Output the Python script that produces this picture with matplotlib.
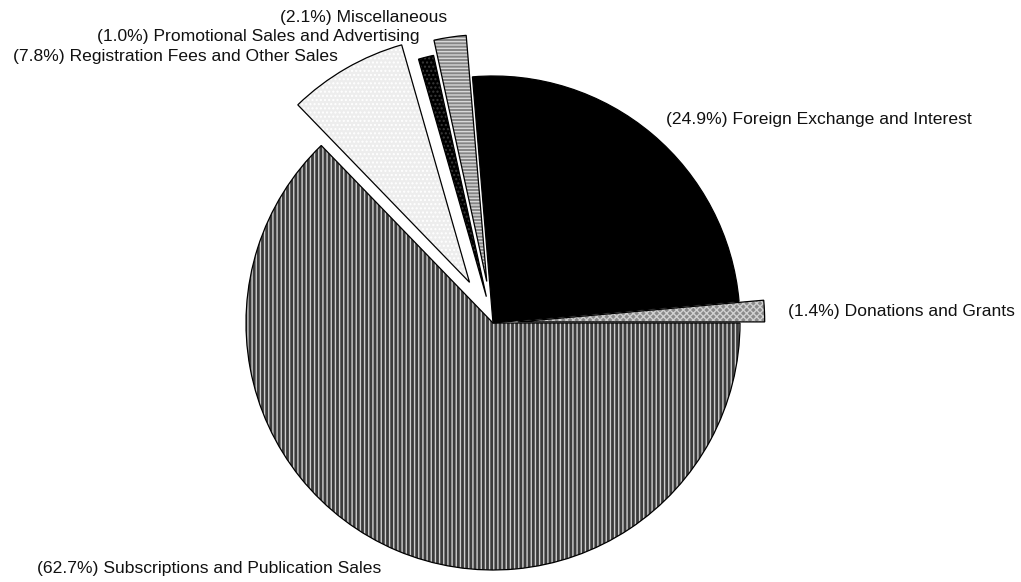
import matplotlib
matplotlib.use("Agg")
import matplotlib.pyplot as plt

plt.rcParams['font.family'] = ['Liberation Sans', 'DejaVu Sans']
plt.rcParams['hatch.linewidth'] = 1.0

# Revenue shares (percent), counter-clockwise from 3 o'clock
categories = [
    "Donations and Grants",
    "Foreign Exchange and Interest",
    "Miscellaneous",
    "Promotional Sales and Advertising",
    "Registration Fees and Other Sales",
    "Subscriptions and Publication Sales",
]
shares = [1.4, 24.9, 2.1, 1.0, 7.8, 62.7]

# styling per wedge
explode = [0.10, 0.0, 0.17, 0.11, 0.19, 0.0]
face_colors = ["#8a8a8a", "#000000", "#858585", "#000000", "#ededed", "#3c3c3c"]
hatches = ["xxxxx", None, "-----", "....", "....", "||||"]
hatch_colors = ["#d0d0d0", "#000000", "#d8d8d8", "#3a3a3a", "#ffffff", "#cfcfcf"]

# label anchors (data units, pie radius = 1) and alignment
label_pos = [(1.194, 0.045), (0.700, 0.822), (-0.186, 1.235),
             (-0.296, 1.158), (-0.628, 1.077), (-0.453, -0.992)]
label_ha = ["left", "left", "right", "right", "right", "right"]

W, H = 1021, 582
cx, cy, R = 493, 323, 247

fig = plt.figure(figsize=(W / 100, H / 100), dpi=100)
ax = fig.add_axes([0, 0, 1, 1])

# filled, hatched wedges
wedges, _ = ax.pie(shares, explode=explode, startangle=0, counterclock=True,
                   colors=face_colors, radius=1.0,
                   wedgeprops=dict(linewidth=0))
for w, h, hc in zip(wedges, hatches, hatch_colors):
    if h:
        w.set_hatch(h)
        w._hatch_color = matplotlib.colors.to_rgba(hc)

# black outlines on top
ax.pie(shares, explode=explode, startangle=0, counterclock=True, radius=1.0,
       wedgeprops=dict(facecolor="none", edgecolor="black", linewidth=0.9))

for name, val, (x, y), ha in zip(categories, shares, label_pos, label_ha):
    ax.text(x, y, f"({val:.1f}%) {name}", ha=ha, va="center",
            fontsize=12.6, color="#111111")

ax.set_xlim(-cx / R, (W - cx) / R)
ax.set_ylim(-(H - cy) / R, cy / R)
ax.set_aspect("equal")
ax.axis("off")

fig.savefig("out.png", dpi=100, facecolor="white")
